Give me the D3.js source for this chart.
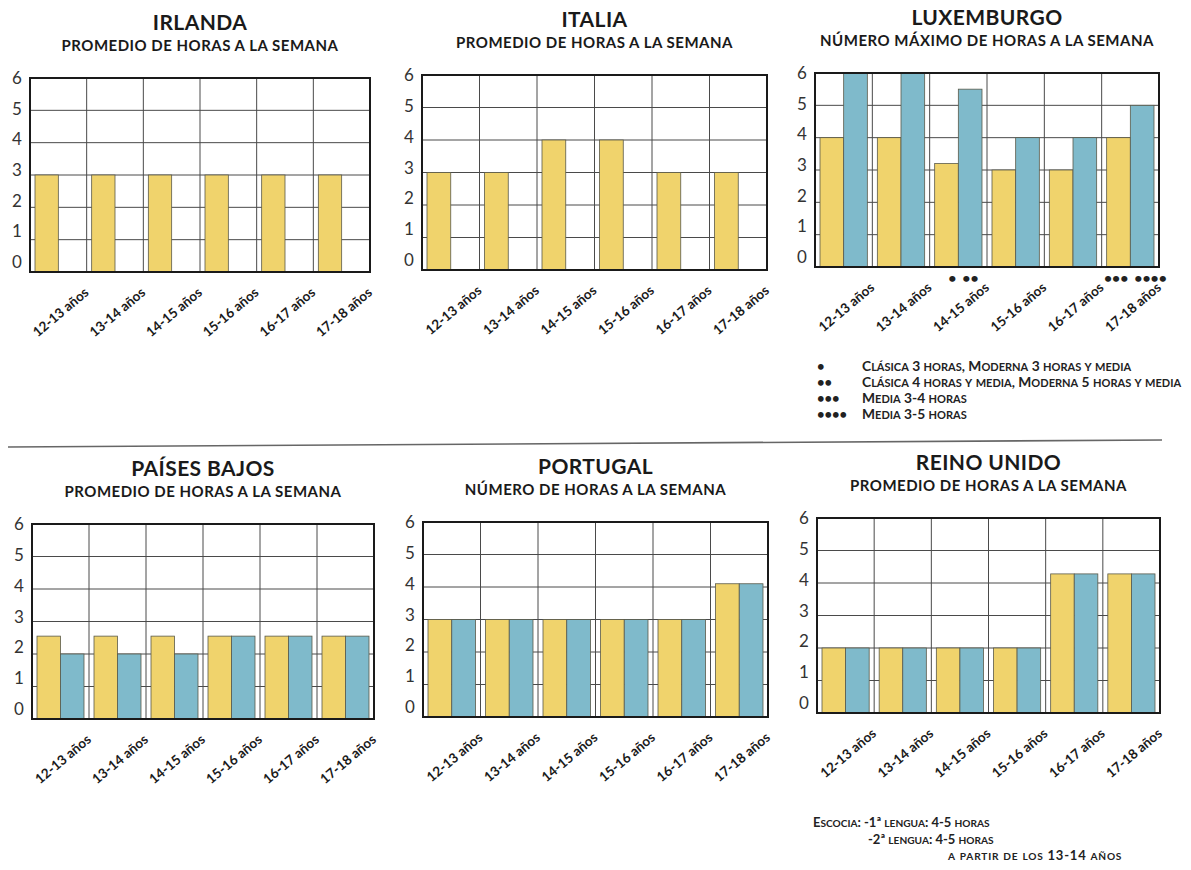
<!DOCTYPE html>
<html><head><meta charset="utf-8">
<script src="https://cdn.jsdelivr.net/npm/d3@7"></script>
<style>
body{margin:0;background:#fff;}
svg{display:block;}
</style></head>
<body>
<svg id="chart" width="1191" height="870"></svg>
<script>
// ---------------- DATA ----------------
const categories = ["12-13 años","13-14 años","14-15 años","15-16 años","16-17 años","17-18 años"];
const yTicks = [0,1,2,3,4,5,6];

const countries = ["IRLANDA","ITALIA","LUXEMBURGO","PAÍSES BAJOS","PORTUGAL","REINO UNIDO"];
const subtitles = [
  "PROMEDIO DE HORAS A LA SEMANA",
  "PROMEDIO DE HORAS A LA SEMANA",
  "NÚMERO MÁXIMO DE HORAS A LA SEMANA",
  "PROMEDIO DE HORAS A LA SEMANA",
  "NÚMERO DE HORAS A LA SEMANA",
  "PROMEDIO DE HORAS A LA SEMANA"
];

const irlandaYellow   = [3,3,3,3,3,3];
const irlandaBlue     = [null,null,null,null,null,null];
const italiaYellow    = [3,3,4,4,3,3];
const italiaBlue      = [null,null,null,null,null,null];
const luxYellow       = [4,4,3.2,3,3,4];
const luxBlue         = [6,6,5.5,4,4,5];
const pbYellow        = [2.55,2.55,2.55,2.55,2.55,2.55];
const pbBlue          = [2,2,2,2.55,2.55,2.55];
const portugalYellow  = [3,3,3,3,3,4.1];
const portugalBlue    = [3,3,3,3,3,4.1];
const ruYellow        = [2,2,2,2,4.28,4.28];
const ruBlue          = [2,2,2,2,4.28,4.28];

// footnote markers under Luxembourg bars
const luxMarkCats   = ["14-15 años","14-15 años","17-18 años","17-18 años"];
const luxMarkSeries = [0,1,0,1];
const luxMarks      = ["•","••","•••","••••"];

const luxLegendMarks = ["•","••","•••","••••"];
const luxLegendTexts = [
  "Clásica 3 horas, Moderna 3 horas y media",
  "Clásica 4 horas y media, Moderna 5 horas y media",
  "Media 3-4 horas",
  "Media 3-5 horas"
];
const ruNotes = ["Escocia: -1ª lengua: 4-5 horas","-2ª lengua: 4-5 horas","a partir de los 13-14 años"];

// ---------------- LAYOUT ----------------
const frames = [
  {x0:30,  x1:370,  y0:78,  y1:272},
  {x0:422, x1:767,  y0:75,  y1:270},
  {x0:815, x1:1159, y0:73,  y1:267},
  {x0:32,  x1:374,  y0:524, y1:719},
  {x0:423, x1:768,  y0:522, y1:717},
  {x0:817, x1:1160, y0:518, y1:713}
];
const seriesData = [
  [irlandaYellow, irlandaBlue],
  [italiaYellow, italiaBlue],
  [luxYellow, luxBlue],
  [pbYellow, pbBlue],
  [portugalYellow, portugalBlue],
  [ruYellow, ruBlue]
];
const colors = ["#F0D36C","#7FBACB"];
const svg = d3.select("#chart");
const FONT = "Lato, 'Open Sans', sans-serif";

// manual small caps: lowercase runs uppercased at reduced size
function smallCaps(sel, str, size, ratio){
  const runs = [];
  for (const ch of str){
    const low = ch !== ch.toUpperCase();
    if (runs.length && runs[runs.length-1].low===low) runs[runs.length-1].t += ch;
    else runs.push({low, t:ch});
  }
  runs.forEach(r=>{
    sel.append("tspan").attr("font-size", r.low? size*ratio : size).text(r.low? r.t.toUpperCase(): r.t);
  });
}

// separator
svg.append("line").attr("x1",8).attr("y1",447).attr("x2",1162).attr("y2",440)
  .attr("stroke","#666").attr("stroke-width",1.6);

const panels = [];
frames.forEach((f,i)=>{
  const g = svg.append("g");
  const x0 = d3.scaleBand().domain(categories).range([f.x0,f.x1]).padding(0);
  const bw = x0.bandwidth();
  const x1 = d3.scaleBand().domain([0,1]).range([5,bw-5]).padding(0);
  const y = d3.scaleLinear().domain([0,6]).range([f.y1,f.y0]);
  const yLab = d3.scaleLinear().domain([0,6]).range([f.y1-10,f.y0]);
  panels.push({x0,x1,y,f});

  const cx = (f.x0+f.x1)/2;
  g.append("text").attr("x",cx).attr("y",f.y0-48).attr("text-anchor","middle")
    .attr("font-family",FONT).attr("font-weight","bold").attr("font-size",21)
    .attr("letter-spacing",0.4).attr("fill","#1a1a1a").text(countries[i]);
  g.append("text").attr("x",cx).attr("y",f.y0-27).attr("text-anchor","middle")
    .attr("font-family",FONT).attr("font-weight","bold").attr("font-size",15)
    .attr("letter-spacing",0.5).attr("fill","#1a1a1a").text(subtitles[i]);

  g.selectAll(".hg").data(yTicks.filter(t=>t>0&&t<6)).join("line")
    .attr("x1",f.x0).attr("x2",f.x1).attr("y1",d=>y(d)).attr("y2",d=>y(d))
    .attr("stroke","#4a4a4a").attr("stroke-width",1);
  g.selectAll(".vg").data(categories.slice(1)).join("line")
    .attr("x1",d=>x0(d)).attr("x2",d=>x0(d)).attr("y1",f.y0).attr("y2",f.y1)
    .attr("stroke","#4a4a4a").attr("stroke-width",1);

  seriesData[i].forEach((vals,s)=>{
    g.selectAll(".bar"+s).data(categories.map((c,k)=>({c,v:vals[k]})).filter(d=>d.v!=null)).join("rect")
      .attr("x",d=>x0(d.c)+x1(s)).attr("width",x1.bandwidth())
      .attr("y",d=>y(d.v)).attr("height",d=>y(0)-y(d.v))
      .attr("fill",colors[s]).attr("stroke","#5a5a4a").attr("stroke-width",0.8);
  });

  g.append("rect").attr("x",f.x0).attr("y",f.y0).attr("width",f.x1-f.x0).attr("height",f.y1-f.y0)
    .attr("fill","none").attr("stroke","#1a1a1a").attr("stroke-width",2);

  g.selectAll(".yl").data(yTicks).join("text")
    .attr("x",f.x0-13).attr("y",d=>yLab(d)).attr("dy","0.36em").attr("text-anchor","middle")
    .attr("font-family",FONT).attr("font-size",17).attr("fill","#333").text(d=>d);

  g.selectAll(".xl").data(categories).join("text")
    .attr("transform",d=>`translate(${x0(d)+bw+3},${f.y1+22}) rotate(-40)`)
    .attr("text-anchor","end").attr("font-family",FONT).attr("font-weight","bold")
    .attr("font-size",13.5).attr("fill","#1a1a1a").text(d=>d);
});

// Luxembourg markers
const lux = panels[2];
svg.selectAll(".lm").data(luxMarks).join("text")
  .attr("x",(d,k)=>lux.x0(luxMarkCats[k])+lux.x0.bandwidth()/2+(luxMarkSeries[k]===0?-2:4))
  .attr("text-anchor",(d,k)=>luxMarkSeries[k]===0?"end":"start")
  .attr("y",lux.f.y1+16)
  .attr("font-family",FONT).attr("font-size",14).attr("font-weight","bold").attr("fill","#222")
  .text(d=>d);

// Luxembourg legend
const lg = svg.append("g");
lg.selectAll(".lgm").data(luxLegendMarks).join("text")
  .attr("x",817).attr("y",(d,k)=>371+k*16)
  .attr("font-family",FONT).attr("font-size",13).attr("font-weight","bold").attr("fill","#222")
  .text(d=>d);
lg.selectAll(".lgt").data(luxLegendTexts).join("text")
  .attr("x",862).attr("y",(d,k)=>371+k*16)
  .attr("font-family",FONT).attr("font-weight","bold").attr("fill","#222")
  .each(function(d){ smallCaps(d3.select(this), d, 13.8, 0.8); });

// Reino Unido notes
const noteX = [813,868,948];
svg.selectAll(".rn").data(ruNotes).join("text")
  .attr("x",(d,k)=>noteX[k]).attr("y",(d,k)=>827+k*16.5)
  .attr("font-family",FONT).attr("font-weight","bold").attr("fill","#222")
  .attr("letter-spacing",(d,k)=>k===2?0.8:0)
  .each(function(d){ smallCaps(d3.select(this), d, 13, 0.78); });
</script>
</body></html>
